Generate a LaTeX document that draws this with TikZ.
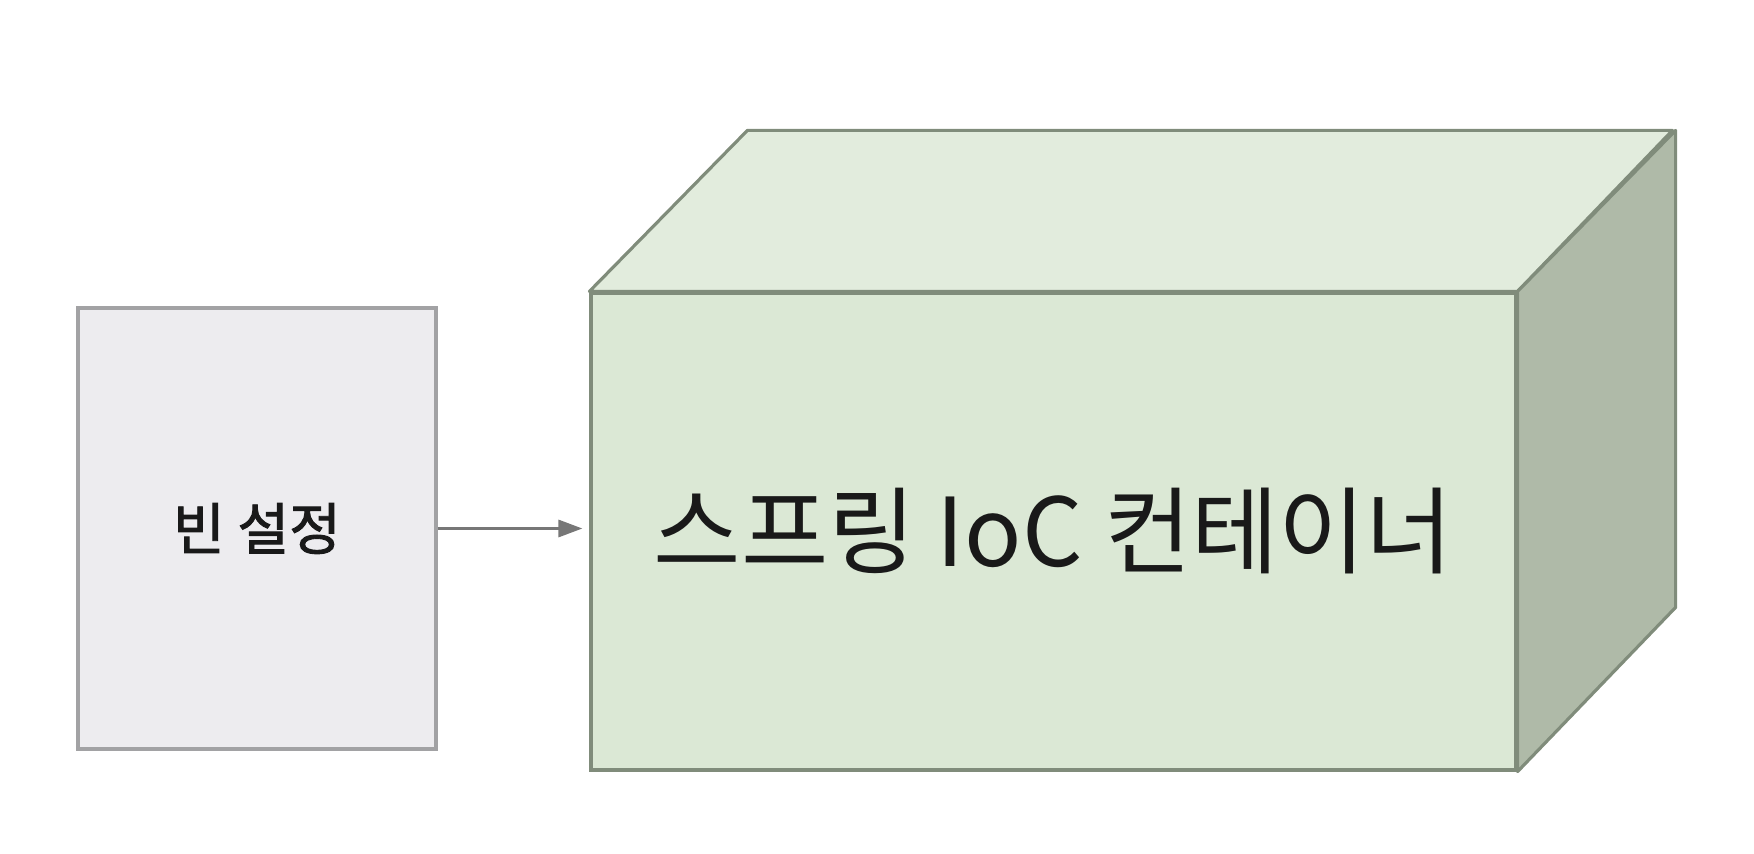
\documentclass[tikz,border=0pt]{standalone}
\usepackage{fontspec}
\newfontfamily\krfont{Noto Sans CJK KR}
\newfontfamily\krbold[FakeBold=1.6]{Noto Sans CJK KR}
\usetikzlibrary{arrows.meta}
\definecolor{beanfill}{HTML}{EDECEF}
\definecolor{beanline}{HTML}{A2A2A4}
\definecolor{frontfill}{HTML}{DBE8D5}
\definecolor{topfill}{HTML}{E2ECDD}
\definecolor{sidefill}{HTML}{AFBAA8}
\definecolor{boxline}{HTML}{808C7B}
\definecolor{arrowgray}{HTML}{777777}
\begin{document}
\begin{tikzpicture}[box/.style={draw=boxline, line width=0.9pt, inner sep=0pt, text=black!90},
  face/.style={draw=boxline, line width=0.9pt, line join=round},
  conn/.style={draw=arrowgray, line width=0.9pt, -{Triangle[length=2.4mm,width=1.7mm]}, shorten >=0.7mm}]
\useasboundingbox (0,0) rectangle (17.54,8.54);
\node[box, draw=beanline, fill=beanfill, minimum width=3.58cm, minimum height=4.41cm, font=\krbold\fontsize{16}{19}\selectfont] (bean) at (2.57,3.255) {빈 설정};
\node[box, fill=frontfill, minimum width=9.25cm, minimum height=4.77cm, font=\krfont\fontsize{27}{32}\selectfont] (front) at (10.535,3.225) {스프링 IoC 컨테이너};
\draw[face, fill=topfill] (front.north west) -- ++(1.58,1.61) -- ++(9.25,0) -- (front.north east) -- cycle;
\draw[face, fill=sidefill] (front.north east) -- ++(1.58,1.61) -- ++(0,-4.77) -- (front.south east) -- cycle;
\draw[conn] (bean.east) -- (bean.east -| front.west);
\end{tikzpicture}
\end{document}
